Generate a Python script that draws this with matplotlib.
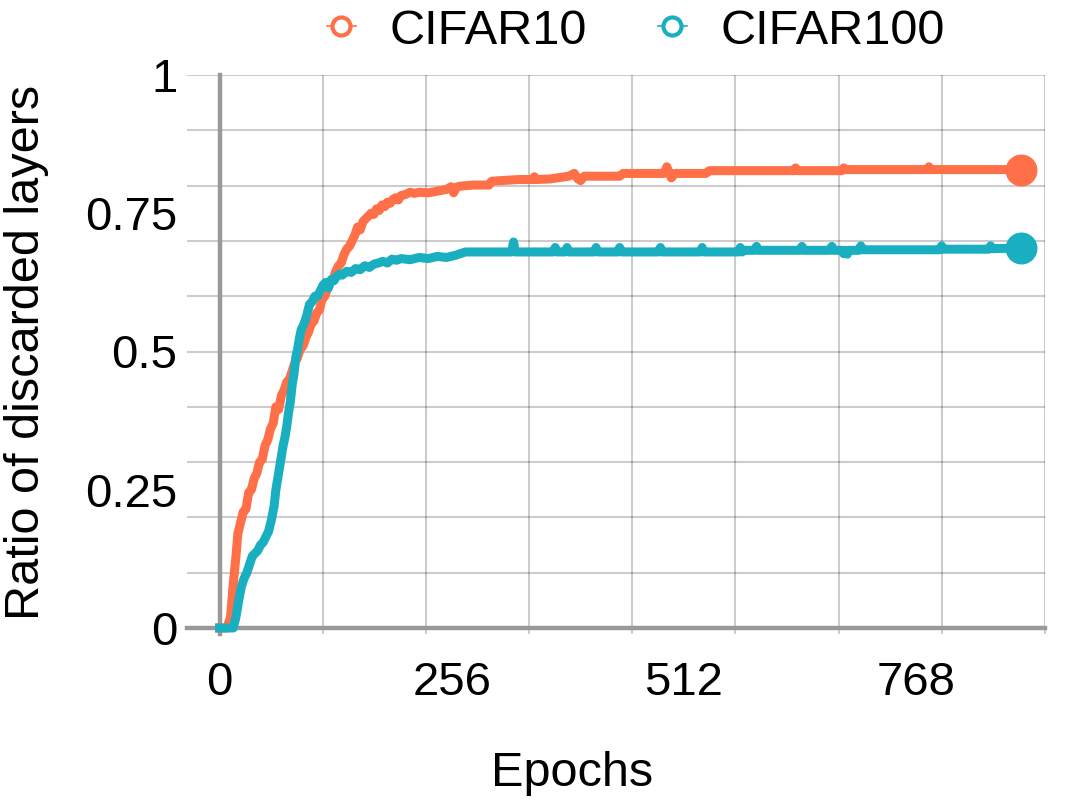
import matplotlib
matplotlib.use("Agg")
import matplotlib.pyplot as plt
from matplotlib.lines import Line2D

plt.rcParams['font.family'] = ['Liberation Sans', 'DejaVu Sans']

# ---------------- data ----------------
cifar10_epochs = [0, 8, 12, 15, 18, 20, 23, 26, 29, 32, 35, 38, 41, 44, 47, 50, 53, 56, 59, 62,
                  65, 68, 71, 74, 77, 80, 83, 86, 89, 92, 95, 98, 101, 104, 107, 110, 113, 116,
                  119, 122, 125, 128, 131, 134, 137, 140, 143, 146, 149, 152, 155, 158, 161,
                  164, 167, 170, 173, 176, 179, 182, 185, 188, 191, 194, 197, 200, 205, 210,
                  215, 220, 230, 240, 250, 255, 258, 261, 265, 280, 297, 300, 330, 345, 347,
                  349, 364, 385, 391, 395, 398, 402, 441, 445, 490, 493, 496, 498, 502, 536,
                  540, 633, 635, 637, 686, 688, 690, 780, 782, 784, 884]
cifar10_ratio = [0.0, 0.0, 0.02, 0.08, 0.13, 0.17, 0.19, 0.21, 0.215, 0.245, 0.25, 0.27, 0.28,
                 0.30, 0.305, 0.33, 0.34, 0.36, 0.37, 0.40, 0.395, 0.42, 0.43, 0.445, 0.45,
                 0.465, 0.48, 0.49, 0.505, 0.51, 0.525, 0.535, 0.55, 0.555, 0.57, 0.575, 0.595,
                 0.60, 0.615, 0.625, 0.63, 0.645, 0.655, 0.66, 0.675, 0.685, 0.69, 0.70, 0.71,
                 0.725, 0.72, 0.735, 0.74, 0.745, 0.75, 0.748, 0.758, 0.755, 0.765, 0.762,
                 0.77, 0.768, 0.775, 0.778, 0.774, 0.782, 0.784, 0.788, 0.786, 0.788, 0.787,
                 0.79, 0.793, 0.798, 0.787, 0.797, 0.799, 0.801, 0.801, 0.808, 0.811, 0.811,
                 0.816, 0.811, 0.812, 0.817, 0.822, 0.812, 0.809, 0.817, 0.817, 0.822, 0.822,
                 0.834, 0.822, 0.814, 0.822, 0.822, 0.827, 0.827, 0.832, 0.827, 0.827, 0.832,
                 0.829, 0.829, 0.834, 0.829, 0.829]

cifar100_epochs = [0, 15, 18, 21, 24, 27, 30, 33, 36, 39, 42, 45, 48, 51, 54, 57, 60, 62, 64,
                   66, 68, 70, 72, 74, 76, 78, 80, 82, 84, 86, 88, 90, 93, 96, 99, 102, 105,
                   108, 111, 114, 117, 120, 123, 126, 129, 132, 135, 140, 145, 150, 155, 160,
                   165, 170, 175, 180, 185, 190, 195, 200, 210, 220, 230, 240, 250, 260, 271,
                   322, 324, 326, 368, 370, 372, 381, 383, 385, 413, 415, 417, 439, 441, 443,
                   484, 486, 488, 530, 532, 534, 572, 574, 576, 578, 590, 592, 594, 640, 642,
                   644, 673, 675, 677, 686, 688, 690, 692, 694, 696, 705, 707, 709, 794, 796,
                   798, 848, 850, 852, 884]
cifar100_ratio = [0.0, 0.0, 0.02, 0.05, 0.075, 0.09, 0.10, 0.115, 0.13, 0.135, 0.14, 0.15,
                  0.155, 0.165, 0.175, 0.195, 0.22, 0.25, 0.27, 0.29, 0.31, 0.33, 0.345, 0.365,
                  0.39, 0.41, 0.44, 0.46, 0.49, 0.505, 0.525, 0.54, 0.55, 0.565, 0.585, 0.59,
                  0.60, 0.60, 0.61, 0.62, 0.625, 0.615, 0.63, 0.628, 0.636, 0.64, 0.638, 0.645,
                  0.643, 0.65, 0.648, 0.655, 0.652, 0.658, 0.66, 0.663, 0.66, 0.667, 0.665,
                  0.668, 0.666, 0.67, 0.668, 0.672, 0.67, 0.674, 0.68, 0.68, 0.698, 0.68,
                  0.68, 0.688, 0.68, 0.68, 0.688, 0.68, 0.68, 0.688, 0.68, 0.68, 0.688, 0.68,
                  0.68, 0.688, 0.68, 0.68, 0.688, 0.68, 0.68, 0.688, 0.68, 0.683, 0.683, 0.69,
                  0.683, 0.683, 0.69, 0.683, 0.683, 0.69, 0.683, 0.683, 0.677, 0.683, 0.676,
                  0.683, 0.683, 0.683, 0.691, 0.684, 0.684, 0.691, 0.685, 0.685, 0.691, 0.686,
                  0.687]

series_names = ['CIFAR10', 'CIFAR100']
series_colors = ['#FF7048', '#1AAFC0']
x_tick_values = [0, 256, 512, 768]
y_tick_values = [0, 0.25, 0.5, 0.75, 1]
y_tick_labels = ['0', '0.25', '0.5', '0.75', '1']

# ---------------- figure ----------------
W, H = 1066, 808
fig = plt.figure(figsize=(W / 100, H / 100), dpi=100)
ax = fig.add_axes([187 / W, 1 - 628 / H, (1045 - 187) / W, (628 - 75) / H])

xmax = 910
ax.set_xlim(-36, xmax)
ax.set_ylim(0, 1)

for s in ax.spines.values():
    s.set_visible(False)

ax.xaxis.remove_overlapping_locs = False
ax.yaxis.remove_overlapping_locs = False

# grid (major ticks, unlabelled)
grid_x = [xmax * k / 8 for k in range(1, 9)]
grid_y = [k / 10 for k in range(1, 11)]
ax.set_xticks(grid_x)
ax.set_xticklabels([])
ax.set_yticks(grid_y)
ax.set_yticklabels([])
ax.grid(True, which='major', color='black', alpha=0.2, linewidth=1.5, zorder=0)
ax.tick_params(axis='x', which='major', length=4, width=1.5, color=(0, 0, 0, 0.2), direction='out')
ax.tick_params(axis='y', which='major', length=0)
ax.set_axisbelow(True)

# labelled ticks (minor, no marks)
ax.set_xticks(x_tick_values, minor=True)
ax.set_xticklabels([str(v) for v in x_tick_values], minor=True)
ax.set_yticks(y_tick_values, minor=True)
ax.set_yticklabels(y_tick_labels, minor=True)
ax.tick_params(axis='x', which='minor', length=0, pad=24, labelsize=34)
ax.tick_params(axis='y', which='minor', length=0, pad=7, labelsize=34)

# axis lines
ax.axhline(0, color='#999999', linewidth=3.2, zorder=1, clip_on=False)
ax.axvline(0, color='#999999', linewidth=3.2, zorder=1, ymin=-0.01, clip_on=False)

# data
for xs, ys, c in [(cifar10_epochs, cifar10_ratio, series_colors[0]),
                  (cifar100_epochs, cifar100_ratio, series_colors[1])]:
    ax.plot(xs, ys, color=c, linewidth=6.5, zorder=3, clip_on=False)
    ax.plot([xs[-1]], [ys[-1]], 'o', color=c, markersize=22, zorder=4, clip_on=False)

ax.set_xlabel('Epochs', fontsize=35)
ax.xaxis.set_label_coords((572 - 187) / (1045 - 187), -(773 - 628) / (628 - 75))
ax.xaxis.label.set_va('center')
ax.set_ylabel('Ratio of discarded layers', fontsize=35)
ax.yaxis.set_label_coords(-(187 - 27) / (1045 - 187), (628 - 352) / (628 - 75))
ax.yaxis.label.set_va('center')

handles = [Line2D([0], [0], color=c, linewidth=1.2, marker='o', markersize=13,
                  markerfacecolor='white', markeredgecolor=c, markeredgewidth=3)
           for c in series_colors]
fig.legend(handles, series_names, loc='center', bbox_to_anchor=(636 / W, 1 - 31 / H),
           ncol=2, frameon=False, fontsize=35, handlelength=0.6, handletextpad=0.7,
           columnspacing=1.45, borderpad=0, borderaxespad=0)

fig.savefig('out.png', dpi=100)
